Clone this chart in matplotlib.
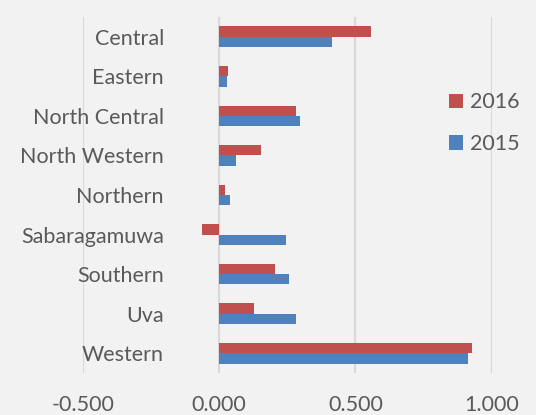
import numpy as np
from matplotlib import pyplot as plt

regions = ['Central', 'Eastern', 'North Central', 'North Western', 'Northern',
           'Sabaragamuwa', 'Southern', 'Uva', 'Western']
values_2016 = [0.558, 0.033, 0.281, 0.154, 0.021, -0.064, 0.205, 0.126, 0.926]
values_2015 = [0.413, 0.029, 0.297, 0.060, 0.040, 0.246, 0.256, 0.281, 0.914]
x_ticks = [-0.5, 0.0, 0.5, 1.0]

plt.rcParams['font.family'] = ['Lato', 'DejaVu Sans']
text_color = '#595959'
bg = '#f2f2f2'
fs = 15.5

fig = plt.figure(figsize=(5.36, 4.15), dpi=100, facecolor=bg)
ax = fig.add_axes([83 / 536, 1 - 373 / 415, (491.7 - 83) / 536, (373 - 17) / 415])
ax.set_facecolor(bg)

y = np.arange(len(regions))
h = 0.26
ax.barh(y - h / 2, values_2016, height=h, color='#c0504d', label='2016', zorder=3)
ax.barh(y + h / 2, values_2015, height=h, color='#4f81bd', label='2015', zorder=3)

ax.set_xlim(-0.5, 1.0)
ax.set_ylim(len(regions) - 0.5, -0.5)
ax.set_xticks(x_ticks)
ax.set_xticklabels(['{:.3f}'.format(v) for v in x_ticks])
ax.set_yticks(y)
ax.set_yticklabels(regions)
ax.tick_params(length=0, colors=text_color, labelsize=fs)
ax.tick_params(axis='x', pad=16)
# category labels end right of the -0.500 gridline, at about x=164 px
ax.tick_params(axis='y', pad=-(164 - 83) * 0.72)
ax.grid(axis='x', color='#d9d9d9', linewidth=1.5, zorder=0)
for s in ax.spines.values():
    s.set_visible(False)

fig.legend(loc='upper left', bbox_to_anchor=(430 / 536, 1 - 73 / 415), frameon=False,
           fontsize=fs, labelcolor=text_color, handlelength=0.65, handleheight=0.65,
           handletextpad=0.3, labelspacing=1.0)

fig.savefig('out.png', dpi=100, facecolor=bg)
